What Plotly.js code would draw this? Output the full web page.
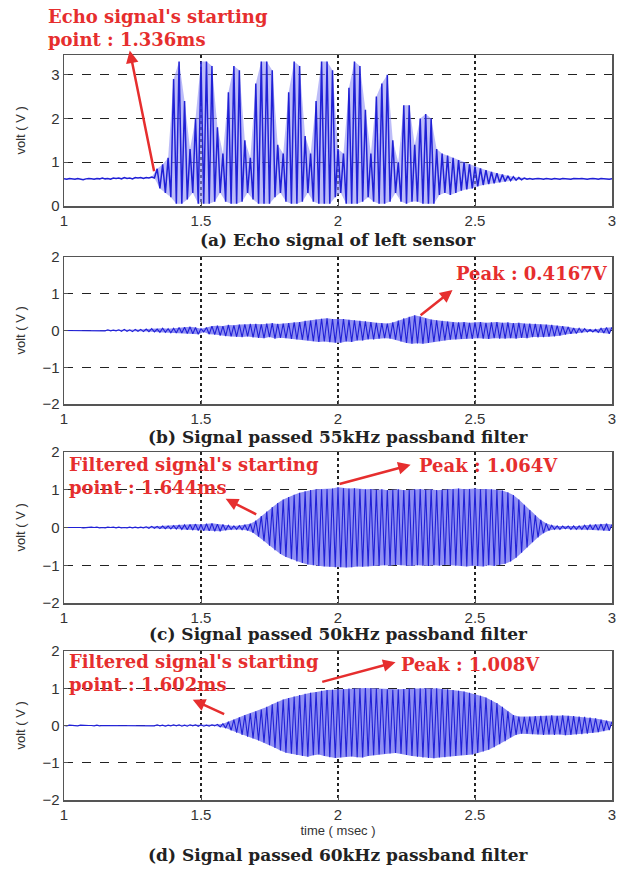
<!DOCTYPE html>
<html>
<head>
<meta charset="utf-8">
<script src="https://cdn.plot.ly/plotly-3.0.1.min.js"></script>
<style>html,body{margin:0;padding:0;background:#fff;}#chart{width:618px;height:869px;}</style>
</head>
<body>
<div id="chart"></div>
<script>
// Sampling grid of the recorded signals (msec)
const tStart = 1.00;
const tStep = 0.01;

// (a) Echo signal of left sensor (volt), one sample per 0.01 ms from 1.00 to 3.00
const echoLeft = [
  0.62,0.61,0.63,0.62,0.61,0.63,0.62,0.60,0.62,0.63,
  0.62,0.61,0.63,0.62,0.64,0.62,0.63,0.61,0.64,0.63,
  0.64,0.62,0.65,0.63,0.64,0.62,0.65,0.64,0.65,0.63,
  0.65,0.64,0.66,0.64,0.85,0.40,0.95,0.30,1.10,0.20,
  2.90,0.05,3.30,0.05,2.40,0.15,1.30,0.30,2.00,0.05,
  3.30,0.05,3.30,0.05,3.20,0.10,1.80,0.30,1.20,0.10,
  2.60,0.05,3.20,0.05,3.10,0.10,1.50,0.30,1.10,0.15,
  2.80,0.05,3.30,0.05,3.30,0.05,3.10,0.20,1.40,0.30,
  1.20,0.10,2.60,0.05,3.30,0.05,3.20,0.10,1.60,0.30,
  1.20,0.10,2.40,0.05,3.30,0.05,3.30,0.05,3.10,0.20,
  1.30,0.30,1.20,0.05,2.70,0.05,3.30,0.05,3.20,0.10,
  2.20,0.20,1.20,0.10,2.50,0.05,2.80,0.05,3.00,0.10,
  1.50,0.30,1.00,0.10,2.30,0.05,2.30,0.10,1.40,0.10,
  2.00,0.05,2.10,0.05,2.00,0.05,1.30,0.25,1.20,0.30,
  1.15,0.25,1.10,0.30,1.05,0.35,1.00,0.38,0.95,0.40,
  0.90,0.45,0.86,0.48,0.82,0.50,0.78,0.52,0.75,0.54,
  0.72,0.56,0.69,0.58,0.67,0.59,0.65,0.60,0.64,0.61,
  0.63,0.61,0.62,0.63,0.62,0.61,0.63,0.62,0.61,0.63,
  0.62,0.61,0.63,0.62,0.62,0.61,0.63,0.62,0.62,0.63,
  0.62,0.61,0.62,0.63,0.62,0.61,0.63,0.62,0.62,0.61,
  0.62
];

// (b) Signal passed 55kHz passband filter (volt)
const filt55 = [
  0.00,-0.00,0.01,-0.01,0.00,-0.01,0.01,-0.00,0.01,-0.01,
  0.01,-0.01,0.01,-0.01,0.01,-0.01,0.02,-0.01,0.01,-0.01,
  0.02,-0.02,0.03,-0.02,0.02,-0.03,0.03,-0.02,0.03,-0.03,
  0.04,-0.03,0.05,-0.04,0.04,-0.05,0.06,-0.05,0.05,-0.06,
  0.06,-0.07,0.08,-0.07,0.09,-0.08,0.10,-0.09,0.08,-0.10,
  0.05,-0.04,0.08,-0.10,0.12,-0.11,0.13,-0.14,0.12,-0.15,
  0.15,-0.16,0.14,-0.17,0.16,-0.18,0.17,-0.16,0.18,-0.19,
  0.18,-0.20,0.17,-0.21,0.19,-0.18,0.20,-0.22,0.18,-0.20,
  0.19,-0.21,0.20,-0.23,0.22,-0.24,0.23,-0.25,0.26,-0.27,
  0.27,-0.29,0.30,-0.31,0.32,-0.30,0.33,-0.32,0.31,-0.33,
  0.32,-0.33,0.31,-0.30,0.29,-0.31,0.28,-0.27,0.26,-0.27,
  0.25,-0.24,0.23,-0.24,0.21,-0.22,0.20,-0.21,0.19,-0.22,
  0.22,-0.25,0.27,-0.30,0.33,-0.34,0.37,-0.36,0.4167,-0.35,
  0.38,-0.36,0.33,-0.34,0.30,-0.31,0.28,-0.29,0.26,-0.27,
  0.24,-0.25,0.23,-0.24,0.22,-0.23,0.23,-0.22,0.21,-0.23,
  0.22,-0.21,0.23,-0.22,0.21,-0.23,0.22,-0.21,0.23,-0.22,
  0.21,-0.22,0.22,-0.21,0.20,-0.22,0.21,-0.20,0.19,-0.21,
  0.19,-0.18,0.18,-0.19,0.17,-0.18,0.16,-0.17,0.15,-0.16,
  0.13,-0.14,0.12,-0.11,0.10,-0.09,0.07,-0.08,0.06,-0.05,
  0.05,-0.04,0.03,-0.04,0.03,-0.05,0.06,-0.07,0.08,-0.09,
  0.09
];

// (c) Signal passed 50kHz passband filter (volt)
const filt50 = [
  0.00,-0.00,0.00,-0.00,0.01,-0.00,0.00,-0.01,0.00,-0.00,
  0.01,-0.00,0.01,-0.01,0.00,-0.01,0.01,-0.00,0.01,-0.01,
  0.01,-0.01,0.00,-0.01,0.01,-0.01,0.01,-0.01,0.01,-0.01,
  0.02,-0.02,0.03,-0.02,0.03,-0.03,0.04,-0.03,0.04,-0.04,
  0.05,-0.04,0.06,-0.05,0.07,-0.06,0.08,-0.07,0.09,-0.08,
  0.08,-0.09,0.10,-0.09,0.11,-0.10,0.09,-0.10,0.08,-0.07,
  0.06,-0.05,0.04,-0.05,0.05,-0.06,0.07,-0.08,0.10,-0.14,
  0.18,-0.24,0.30,-0.36,0.42,-0.48,0.54,-0.60,0.65,-0.70,
  0.74,-0.78,0.81,-0.84,0.87,-0.90,0.92,-0.94,0.96,-0.98,
  0.99,-1.00,1.01,-1.02,1.01,-1.03,1.02,-1.04,1.03,-1.05,
  1.064,-1.05,1.04,-1.06,1.03,-1.05,1.04,-1.03,1.02,-1.04,
  1.01,-1.03,1.02,-1.01,1.00,-1.02,1.01,-1.00,0.99,-1.01,
  1.00,-0.99,1.01,-1.00,0.99,-1.01,1.00,-1.02,1.01,-1.00,
  1.02,-1.01,1.00,-1.02,1.01,-1.00,0.99,-1.01,1.00,-0.99,
  1.01,-1.00,1.02,-1.01,1.03,-1.02,1.01,-1.03,1.02,-1.01,
  1.03,-1.02,1.01,-1.03,1.02,-1.00,1.01,-1.02,1.00,-0.99,
  0.98,-0.96,0.93,-0.90,0.86,-0.80,0.74,-0.67,0.60,-0.53,
  0.46,-0.39,0.32,-0.26,0.20,-0.15,0.11,-0.08,0.06,-0.05,
  0.04,-0.05,0.04,-0.03,0.04,-0.05,0.04,-0.05,0.04,-0.05,
  0.06,-0.05,0.07,-0.06,0.08,-0.07,0.09,-0.08,0.10,-0.09,
  0.08
];

// (d) Signal passed 60kHz passband filter (volt)
const filt60 = [
  0.00,-0.01,0.01,-0.00,0.00,-0.01,0.01,-0.00,0.01,-0.00,
  0.00,-0.01,0.01,-0.01,0.00,-0.00,0.01,-0.01,0.00,-0.01,
  0.01,-0.00,0.01,-0.01,0.00,-0.01,0.01,-0.00,0.01,-0.01,
  0.01,-0.01,0.01,-0.01,0.02,-0.01,0.01,-0.02,0.01,-0.01,
  0.02,-0.01,0.02,-0.02,0.01,-0.02,0.02,-0.01,0.02,-0.02,
  0.02,-0.02,0.01,-0.02,0.02,-0.01,0.03,-0.04,0.05,-0.07,
  0.10,-0.13,0.16,-0.19,0.22,-0.25,0.28,-0.30,0.33,-0.35,
  0.38,-0.40,0.43,-0.46,0.50,-0.53,0.57,-0.60,0.64,-0.67,
  0.70,-0.73,0.74,-0.76,0.78,-0.79,0.82,-0.82,0.85,-0.84,
  0.88,-0.80,0.90,-0.78,0.93,-0.82,0.95,-0.85,0.96,-0.87,
  0.97,-0.86,0.98,-0.84,0.99,-0.83,1.00,-0.85,0.99,-0.86,
  1.008,-0.82,1.00,-0.80,0.99,-0.78,0.98,-0.76,0.97,-0.75,
  0.96,-0.74,0.97,-0.76,0.98,-0.79,0.99,-0.82,1.00,-0.84,
  1.00,-0.86,1.00,-0.87,0.99,-0.88,1.00,-0.86,0.98,-0.85,
  0.97,-0.83,0.95,-0.82,0.93,-0.80,0.91,-0.79,0.88,-0.78,
  0.84,-0.74,0.80,-0.70,0.75,-0.65,0.68,-0.58,0.60,-0.50,
  0.50,-0.42,0.38,-0.32,0.28,-0.25,0.24,-0.22,0.23,-0.22,
  0.24,-0.23,0.25,-0.24,0.26,-0.25,0.26,-0.24,0.27,-0.25,
  0.26,-0.24,0.27,-0.26,0.26,-0.25,0.25,-0.24,0.24,-0.23,
  0.23,-0.22,0.21,-0.20,0.19,-0.18,0.16,-0.15,0.13,-0.12,
  0.10
];

const xTickVals = [1, 1.5, 2, 2.5, 3];
const xTickText = ['1', '1.5', '2', '2.5', '3'];
const yTickValsA = [0, 1, 2, 3];
const yTickValsF = [-2, -1, 0, 1, 2];

const panelTitles = [
  '(a) Echo signal of left sensor',
  '(b) Signal passed 55kHz passband filter',
  '(c) Signal passed 50kHz passband filter',
  '(d) Signal passed 60kHz passband filter'
];
const yLabel = 'volt ( V )';
const xLabel = 'time ( msec )';

const timeOf = arr => arr.map((_, i) => +(tStart + i * tStep).toFixed(4));

const lineColor = '#2020d6';
const bandColor = '#8f8ff3';
const series = [echoLeft, filt55, filt50, filt60];
const traces = [];
series.forEach((vals, k) => {
  const xa = k === 0 ? 'x' : 'x' + (k + 1);
  const ya = k === 0 ? 'y' : 'y' + (k + 1);
  const t = timeOf(vals);
  // band between alternate samples (the dense oscillation renders as a light band)
  const lowT = [], lowV = [], highT = [], highV = [];
  vals.forEach((v, i) => {
    if (i % 2) { lowT.push(t[i]); lowV.push(v); } else { highT.push(t[i]); highV.push(v); }
  });
  traces.push({ type: 'scatter', mode: 'lines', x: lowT, y: lowV, xaxis: xa, yaxis: ya,
    line: { width: 0, color: bandColor }, hoverinfo: 'skip', showlegend: false });
  traces.push({ type: 'scatter', mode: 'lines', x: highT, y: highV, xaxis: xa, yaxis: ya,
    line: { width: 0, color: bandColor }, fill: 'tonexty', fillcolor: k === 0 ? 'rgba(143,143,243,0.6)' : bandColor,
    hoverinfo: 'skip', showlegend: false });
  traces.push({ type: 'scatter', mode: 'lines', x: t, y: vals, xaxis: xa, yaxis: ya,
    line: { color: lineColor, width: k === 0 ? 1.5 : 1.1 }, hoverinfo: 'skip', showlegend: false });
});

const sans = 'Liberation Sans, Arial, sans-serif';
const tickFont = { family: sans, size: 15, color: '#333' };
const serif = 'DejaVu Serif, Liberation Serif, serif';
const red = '#e62e2e';

function xAx(anchor) {
  return {
    anchor: anchor, range: [1, 3], tickvals: xTickVals, ticktext: xTickText,
    showgrid: true, gridcolor: '#222', griddash: 'dot', gridwidth: 1.3,
    showline: true, mirror: true, linecolor: '#555', linewidth: 1.5,
    ticks: 'inside', ticklen: 4, tickcolor: '#555',
    tickfont: tickFont, zeroline: false, fixedrange: true, layer: 'above traces'
  };
}
function yAx(anchor, domain, range, vals) {
  return {
    anchor: anchor, domain: domain, range: range, tickvals: vals,
    showgrid: true, gridcolor: '#222', griddash: 'dash', gridwidth: 1.2,
    showline: true, mirror: true, linecolor: '#555', linewidth: 1.5,
    ticks: 'inside', ticklen: 4, tickcolor: '#555',
    tickfont: tickFont, zeroline: false, fixedrange: true, layer: 'above traces'
  };
}

// pixel layout: plot area top 55 .. bottom 800, left 64 .. right 612
const dom = (top, bot) => [(800 - bot) / 745, (800 - top) / 745];
const pY = py => (800 - py) / 745;
const pX = px => (px - 64) / 548;

const layout = {
  width: 618, height: 869,
  margin: { l: 64, r: 6, t: 55, b: 69 },
  paper_bgcolor: '#fff', plot_bgcolor: '#fff',
  showlegend: false,
  xaxis: xAx('y'),
  xaxis2: xAx('y2'),
  xaxis3: xAx('y3'),
  xaxis4: Object.assign(xAx('y4'), { title: { text: xLabel, font: { family: sans, size: 13, color: '#333' }, standoff: 4 } }),
  yaxis: yAx('x', dom(55, 206), [0, 3.45], yTickValsA),
  yaxis2: yAx('x2', dom(257, 404), [-2, 2], yTickValsF),
  yaxis3: yAx('x3', dom(452, 603), [-2, 2], yTickValsF),
  yaxis4: yAx('x4', dom(651, 800), [-2, 2], yTickValsF),
  annotations: []
};

// y-axis titles, one per panel, centred on each plot's height
const panelMid = [(55 + 206) / 2, (257 + 404) / 2, (452 + 603) / 2, (651 + 800) / 2];
panelMid.forEach(m => {
  layout.annotations.push({
    text: yLabel, xref: 'paper', yref: 'paper', x: pX(20), y: pY(m),
    xanchor: 'center', yanchor: 'middle', textangle: -90, showarrow: false,
    font: { family: sans, size: 13, color: '#333' }
  });
});

// panel captions
const capY = [240, 437, 634, 855];
panelTitles.forEach((t, k) => {
  layout.annotations.push({
    text: '<b>' + t + '</b>', xref: 'paper', yref: 'paper',
    x: 0.5, y: pY(capY[k]), xanchor: 'center', yanchor: 'middle',
    showarrow: false, font: { family: serif, size: 17, color: '#222' }
  });
});

function note(xr, yr, x, y, text) {
  layout.annotations.push({
    text: '<b>' + text + '</b>', xref: xr, yref: yr, x: x, y: y,
    xanchor: 'left', yanchor: 'middle', align: 'left', showarrow: false,
    font: { family: serif, size: 18, color: red }
  });
}
function arrow(xr, yr, hx, hy, tx, ty) {
  layout.annotations.push({
    text: '', xref: xr, yref: yr, axref: xr, ayref: yr,
    x: hx, y: hy, ax: tx, ay: ty, showarrow: true,
    arrowhead: 2, arrowsize: 1, arrowwidth: 2.5, arrowcolor: red, standoff: 0
  });
}

// (a) label sits above the plot, left of the axis start: paper coordinates
note('paper', 'paper', pX(46), pY(28), "Echo signal's starting<br>point : 1.336ms");
arrow('x', 'y', 1.24, 3.55, 1.33, 0.76);

note('x2', 'y2', 2.424, 1.55, 'Peak : 0.4167V');
arrow('x2', 'y2', 2.418, 1.10, 2.296, 0.38);

note('x3', 'y3', 1.01, 1.37, "Filtered signal's starting<br>point : 1.644ms");
note('x3', 'y3', 2.29, 1.64, 'Peak : 1.064V');
arrow('x3', 'y3', 1.59, 0.76, 1.707, 0.33);
arrow('x3', 'y3', 2.265, 1.66, 2.0, 1.14);

note('x4', 'y4', 1.01, 1.41, "Filtered signal's starting<br>point : 1.602ms");
note('x4', 'y4', 2.222, 1.65, 'Peak : 1.008V');
arrow('x4', 'y4', 1.47, 0.69, 1.59, 0.29);
arrow('x4', 'y4', 2.21, 1.70, 1.937, 1.16);

Plotly.newPlot('chart', traces, layout, { displayModeBar: false, staticPlot: true });
</script>
</body>
</html>
